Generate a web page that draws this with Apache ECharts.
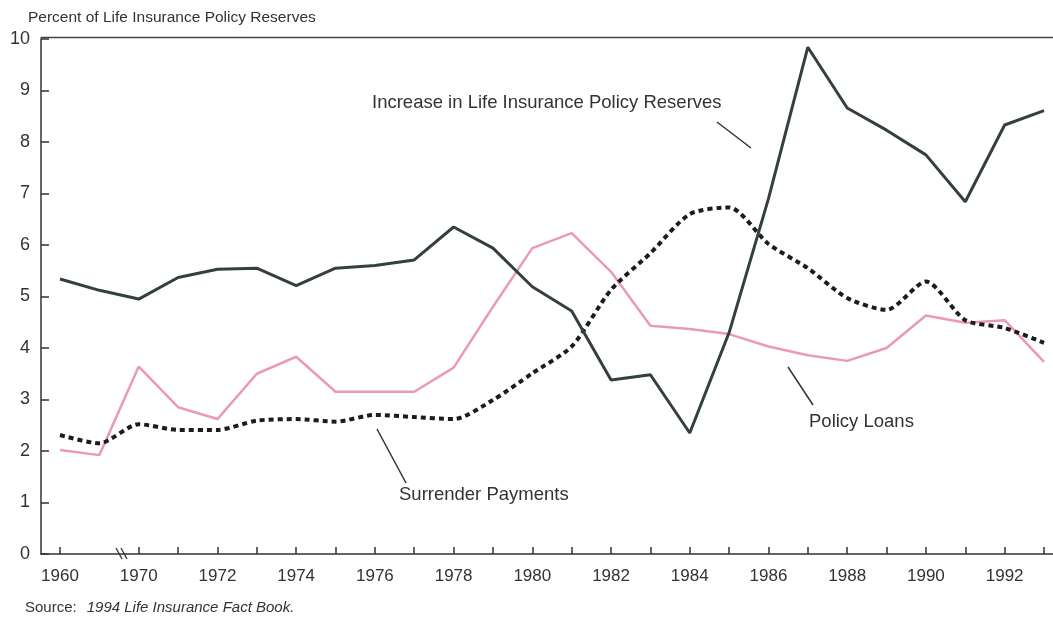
<!DOCTYPE html>
<html>
<head>
<meta charset="utf-8">
<title>Life insurance policy reserves</title>
<script src="https://cdn.jsdelivr.net/npm/echarts@6/dist/echarts.min.js"></script>
<style>
  html, body { margin: 0; padding: 0; background: #fff; }
  #chart { width: 1053px; height: 617px; }
</style>
</head>
<body>
<div id="chart"></div>
<script>
// data (percent of life insurance policy reserves)
const years = ['1960', '1965', '1970', '1971', '1972', '1973', '1974', '1975', '1976', '1977',
  '1978', '1979', '1980', '1981', '1982', '1983', '1984', '1985', '1986', '1987',
  '1988', '1989', '1990', '1991', '1992', '1993'];
const reserves = [5.34, 5.12, 4.95, 5.37, 5.53, 5.55, 5.21, 5.55, 5.6, 5.71,
  6.35, 5.94, 5.19, 4.72, 3.38, 3.48, 2.35, 4.3, 6.9, 9.84,
  8.66, 8.23, 7.75, 6.84, 8.33, 8.61];
const loans = [2.02, 1.92, 3.64, 2.85, 2.62, 3.5, 3.83, 3.15, 3.15, 3.15,
  3.62, 4.8, 5.94, 6.23, 5.48, 4.43, 4.37, 4.27, 4.03, 3.86,
  3.75, 4.0, 4.63, 4.49, 4.54, 3.73];
const surrender = [2.31, 2.15, 2.52, 2.41, 2.41, 2.59, 2.62, 2.57, 2.7, 2.66,
  2.62, 2.99, 3.51, 4.03, 5.13, 5.84, 6.6, 6.73, 6.02, 5.55,
  4.97, 4.74, 5.29, 4.54, 4.39, 4.1];

const FONT = '"Liberation Sans", Arial, sans-serif';
const INK = '#333';

// show ticks on every year except the gap point, labels on 1960 and even years
const showTick = (i) => i !== 1;
const showLabel = (i) => i === 0 || (i >= 2 && Number(years[i]) % 2 === 0);

const chart = echarts.init(document.getElementById('chart'));

chart.setOption({
  animation: false,
  backgroundColor: '#fff',
  textStyle: { fontFamily: FONT },
  title: {
    text: 'Percent of Life Insurance Policy Reserves',
    left: 23,
    top: 5,
    textStyle: { fontSize: 15.5, fontWeight: 'normal', color: INK, fontFamily: FONT },
  },
  grid: [
    { left: 60, right: 9, top: 39, bottom: 63 },
    // frame: bottom axis line and top rule
    { left: 41, right: 0, top: 37, bottom: 63 },
  ],
  xAxis: [
    {
      type: 'category',
      gridIndex: 0,
      data: years,
      boundaryGap: false,
      axisLine: { show: false },
      axisTick: {
        show: true,
        inside: true,
        length: 7,
        interval: showTick,
        lineStyle: { color: INK, width: 1.5 },
      },
      axisLabel: {
        interval: showLabel,
        margin: 14,
        fontSize: 17,
        color: INK,
        fontFamily: FONT,
      },
      splitLine: { show: false },
    },
    {
      type: 'value', gridIndex: 1, min: 0, max: 1, position: 'bottom',
      axisLine: { show: true, lineStyle: { color: INK, width: 1.5 } },
      axisTick: { show: false }, axisLabel: { show: false }, splitLine: { show: false },
    },
    {
      type: 'value', gridIndex: 1, min: 0, max: 1, position: 'top',
      axisLine: { show: true, lineStyle: { color: '#444', width: 1.3 } },
      axisTick: { show: false }, axisLabel: { show: false }, splitLine: { show: false },
    },
  ],
  yAxis: [
    {
      type: 'value',
      gridIndex: 0,
      min: 0,
      max: 10,
      interval: 1,
      offset: 19,
      axisLine: { show: true, lineStyle: { color: INK, width: 1.5 } },
      axisTick: { show: true, inside: true, length: 8, lineStyle: { color: INK, width: 1.5 } },
      axisLabel: { margin: 11, fontSize: 18, color: INK, fontFamily: FONT },
      splitLine: { show: false },
    },
    { type: 'value', gridIndex: 1, min: 0, max: 1, show: false },
  ],
  series: [
    {
      name: 'Surrender Payments',
      type: 'line',
      xAxisIndex: 0,
      yAxisIndex: 0,
      data: surrender,
      smooth: 0.25,
      symbol: 'none',
      lineStyle: { color: '#1c1c1c', width: 4, type: [5, 4], cap: 'butt' },
      z: 3,
    },
    {
      name: 'Policy Loans',
      type: 'line',
      xAxisIndex: 0,
      yAxisIndex: 0,
      data: loans,
      symbol: 'none',
      lineStyle: { color: '#ea9ab6', width: 2.5 },
      z: 2,
    },
    {
      name: 'Increase in Life Insurance Policy Reserves',
      type: 'line',
      xAxisIndex: 0,
      yAxisIndex: 0,
      data: reserves,
      symbol: 'none',
      lineStyle: { color: '#34403c', width: 3 },
      z: 4,
    },
  ],
  graphic: [
    // series labels with leader lines
    {
      type: 'text', left: 372, top: 93,
      style: { text: 'Increase in Life Insurance Policy Reserves', font: '18.5px ' + FONT, fill: INK },
    },
    { type: 'line', shape: { x1: 717, y1: 122, x2: 751, y2: 148 }, style: { stroke: INK, lineWidth: 1.5 } },
    {
      type: 'text', left: 809, top: 412,
      style: { text: 'Policy Loans', font: '18.5px ' + FONT, fill: INK },
    },
    { type: 'line', shape: { x1: 788, y1: 367, x2: 813, y2: 405 }, style: { stroke: INK, lineWidth: 1.5 } },
    {
      type: 'text', left: 399, top: 485,
      style: { text: 'Surrender Payments', font: '18.5px ' + FONT, fill: INK },
    },
    { type: 'line', shape: { x1: 377, y1: 429, x2: 406, y2: 483 }, style: { stroke: INK, lineWidth: 1.5 } },
    // axis break mark between 1965 and 1970
    { type: 'line', shape: { x1: 116, y1: 548, x2: 122, y2: 559 }, style: { stroke: INK, lineWidth: 1.3 } },
    { type: 'line', shape: { x1: 121, y1: 548, x2: 127, y2: 559 }, style: { stroke: INK, lineWidth: 1.3 } },
    // source note
    {
      type: 'text', left: 25, top: 600,
      style: {
        text: '{n|Source:}   {i|1994 Life Insurance Fact Book.}',
        rich: {
          n: { fontSize: 15, fontFamily: FONT, fill: INK, color: INK },
          i: { fontSize: 15, fontFamily: FONT, fontStyle: 'italic', fill: INK, color: INK },
        },
      },
    },
  ],
});
</script>
</body>
</html>
